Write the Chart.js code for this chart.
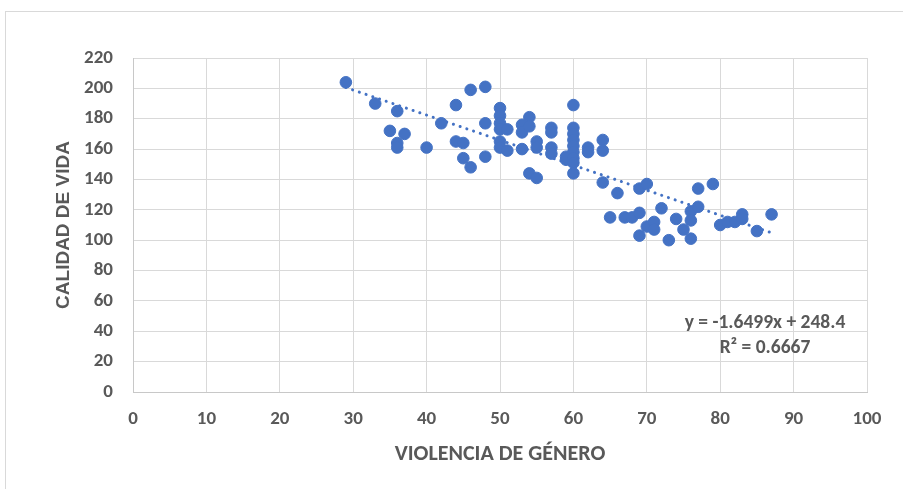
<!DOCTYPE html>
<html>
<head>
<meta charset="utf-8">
<script src="https://cdn.jsdelivr.net/npm/chart.js@4/dist/chart.umd.min.js"></script>
<style>
  html, body { margin: 0; padding: 0; background: #fff; }
  #wrap { width: 903px; height: 489px; }
</style>
</head>
<body>
<div id="wrap"><canvas id="scatterChart" width="903" height="489"></canvas></div>
<script>
// violencia de género (x) vs calidad de vida (y)
const violencia = [
    29, 33, 36, 35, 37, 36, 36, 40, 42, 44, 46, 48, 44, 45, 45, 46, 48, 48,
    50, 50, 50, 50, 50, 50, 51, 51, 53, 53, 53, 54, 54, 54, 55, 55, 55,
    57, 57, 57, 57, 59, 59,
    60, 60, 60, 60, 60, 60, 60, 60, 60,
    62, 62, 64, 64, 64, 65, 66, 67, 68, 69, 69, 70, 69, 70, 71, 71, 72, 73,
    74, 75, 76, 76, 76, 77, 77, 79, 80, 81, 82, 83, 83, 85, 87
];
const calidad = [
    204, 190, 185, 172, 170, 164, 161, 161, 177, 189, 199, 201, 165, 164, 154, 148, 155, 177,
    187, 182, 177, 173, 165, 161, 173, 159, 176, 171, 160, 181, 175, 144, 141, 165, 161,
    174, 171, 161, 157, 153, 155,
    189, 174, 170, 166, 162, 158, 154, 151, 144,
    161, 158, 166, 159, 138, 115, 131, 115, 115, 118, 134, 137, 103, 109, 112, 107, 121, 100,
    114, 107, 119, 113, 101, 134, 122, 137, 110, 112, 112, 117, 114, 106, 117
];

// linear trendline as printed on the chart
const trendSlope = -1.6499;
const trendIntercept = 248.4;
const trendRange = [29, 87];
const trendLabel = "y = -1.6499x + 248.4";
const r2Label = "R² = 0.6667";

const xTicks = { min: 0, max: 100, step: 10 };
const yTicks = { min: 0, max: 220, step: 20 };

const narrowFont = 'Carlito, Calibri, "Liberation Sans Narrow", "DejaVu Sans Condensed", sans-serif';
const grey = "#595959";
const blue = "#4472C4";

const points = violencia.map((v, i) => ({ x: v, y: calidad[i] }));
const trendPoints = trendRange.map(x => ({ x: x, y: trendSlope * x + trendIntercept }));

// outer chart frame + equation text
const excelBits = {
    id: 'excelBits',
    beforeDraw(chart) {
        const ctx = chart.ctx;
        ctx.save();
        ctx.fillStyle = "#fff";
        ctx.fillRect(0, 0, chart.width, chart.height);
        ctx.strokeStyle = "#d9d9d9";
        ctx.lineWidth = 1;
        ctx.strokeRect(5.5, 11.5, chart.width + 10, chart.height + 10);
        ctx.restore();
    },
    afterDraw(chart) {
        const ctx = chart.ctx;
        const a = chart.chartArea;
        ctx.save();
        ctx.fillStyle = grey;
        ctx.font = 'bold 19.5px ' + narrowFont;
        ctx.textAlign = "center";
        ctx.textBaseline = "middle";
        const cx = a.right - 102;
        ctx.fillText(trendLabel, cx, a.top + 265);
        ctx.fillText(r2Label, cx, a.top + 290);
        ctx.restore();
    }
};

new Chart(document.getElementById("scatterChart"), {
    type: 'scatter',
    data: {
        datasets: [
            {
                label: "Calidad de vida",
                data: points,
                backgroundColor: blue,
                borderColor: blue,
                borderWidth: 1,
                pointRadius: 5.8,
                pointHoverRadius: 5.8
            },
            {
                type: 'line',
                label: "Lineal",
                data: trendPoints,
                borderColor: blue,
                borderWidth: 3,
                borderDash: [0.1, 7],
                borderCapStyle: 'round',
                pointRadius: 0,
                fill: false
            }
        ]
    },
    options: {
        responsive: false,
        animation: false,
        layout: { padding: { top: 58, right: 36, left: 0, bottom: 0 } },
        plugins: {
            legend: { display: false },
            tooltip: { enabled: false }
        },
        scales: {
            x: {
                type: 'linear',
                min: xTicks.min,
                max: xTicks.max,
                afterFit: (s) => { s.height = 97; },
                ticks: {
                    stepSize: xTicks.step,
                    padding: 16,
                    color: grey,
                    font: { family: narrowFont, size: 19, weight: 'bold' }
                },
                grid: { color: "#d9d9d9", drawTicks: false },
                border: { color: "#c8c8c8" },
                title: {
                    display: true,
                    text: "VIOLENCIA DE GÉNERO",
                    color: grey,
                    padding: { bottom: 21 },
                    font: { family: narrowFont, size: 22, weight: 'bold' }
                }
            },
            y: {
                min: yTicks.min,
                max: yTicks.max,
                afterFit: (s) => { s.width = 133; },
                ticks: {
                    stepSize: yTicks.step,
                    padding: 20,
                    color: grey,
                    font: { family: narrowFont, size: 19, weight: 'bold' }
                },
                grid: { color: "#d9d9d9", drawTicks: false },
                border: { color: "#c8c8c8" },
                title: {
                    display: true,
                    text: "CALIDAD DE VIDA",
                    color: grey,
                    padding: { top: 52 },
                    font: { family: '"Liberation Sans", Arial, sans-serif', size: 19, weight: 'bold' }
                }
            }
        }
    },
    plugins: [excelBits]
});
</script>
</body>
</html>
